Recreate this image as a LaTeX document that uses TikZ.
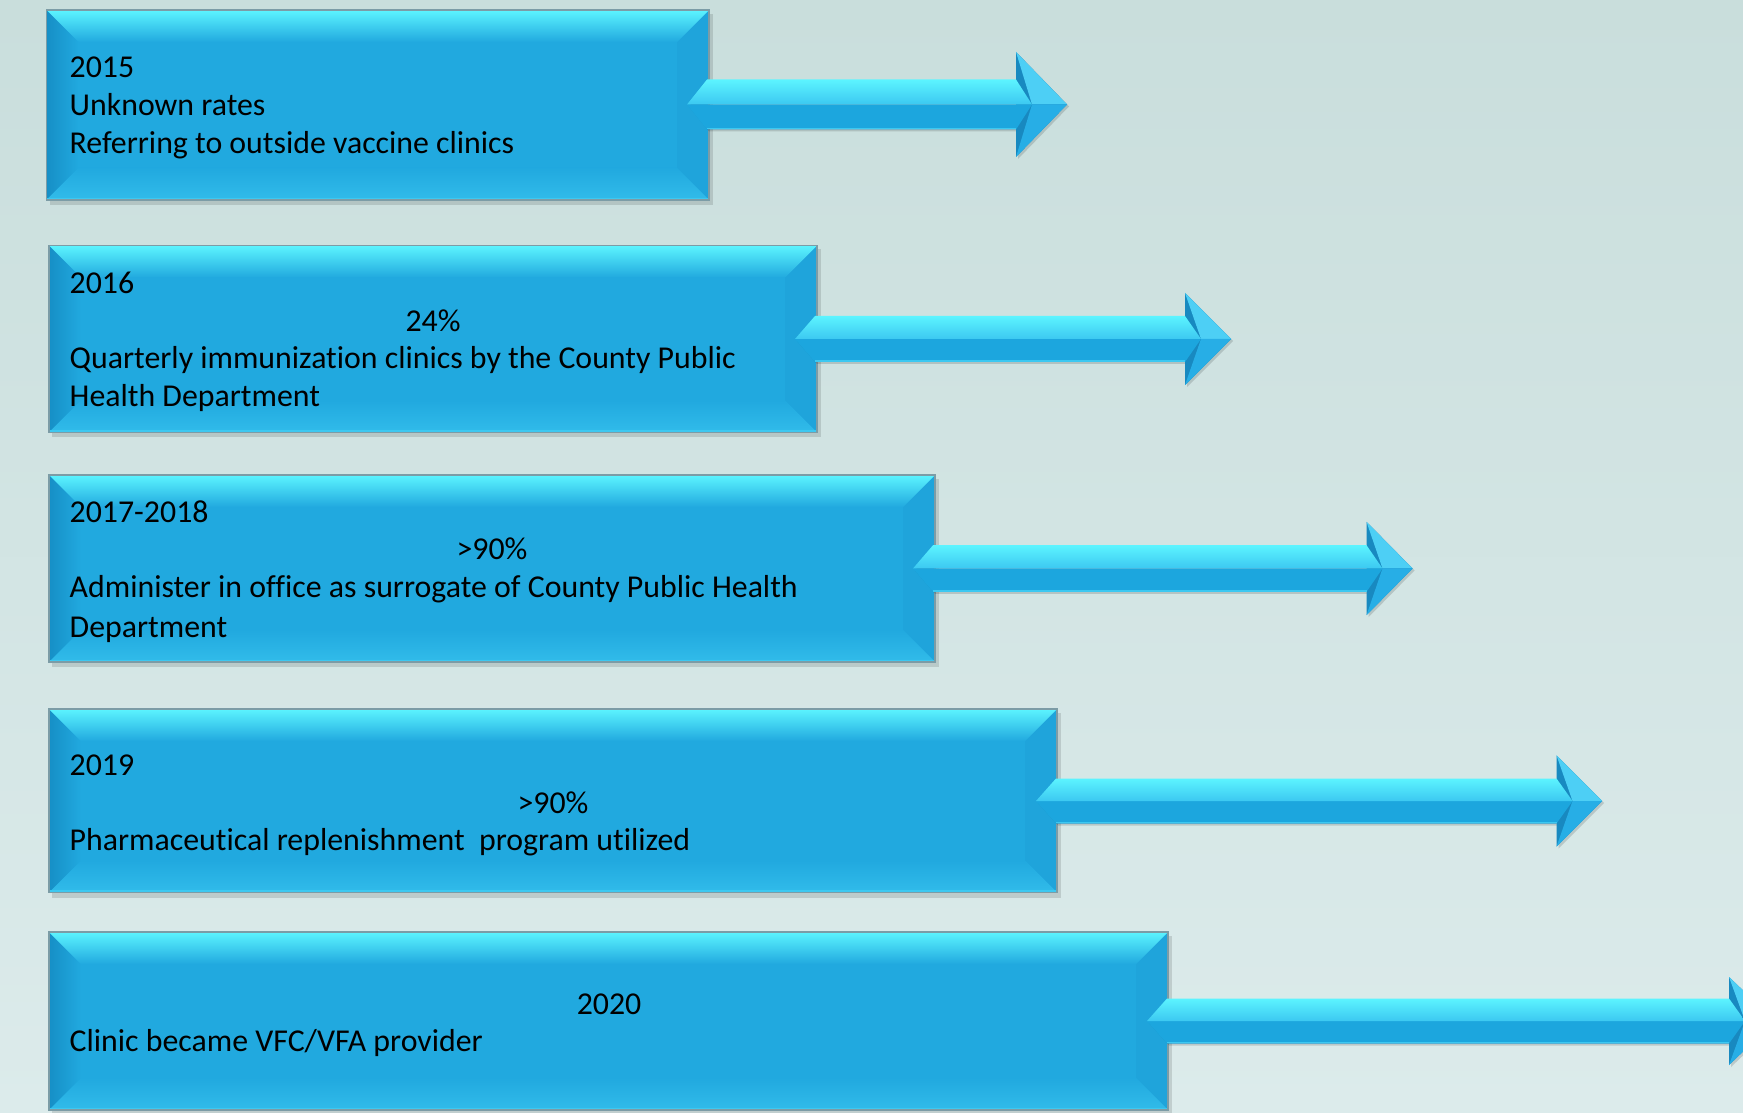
\documentclass[tikz,border=0pt]{standalone}
\usepackage{fontspec}
\setmainfont{Carlito}[Ligatures=NoCommon]
\usepackage{tikz}
\usetikzlibrary{calc}

\definecolor{bgtop}{HTML}{C9DEDC}
\definecolor{bgbot}{HTML}{DCEBEB}
\definecolor{boxmid}{HTML}{21A9DF}
\definecolor{boxlight}{HTML}{5CF4FF}
\definecolor{boxsoft}{HTML}{3CC8F1}
\definecolor{boxdark}{HTML}{168FC6}
\definecolor{boxside}{HTML}{1FA4DB}
\definecolor{boxedge}{HTML}{7C9CA6}
\definecolor{shaftlow}{HTML}{1CA6DE}
\definecolor{headlight}{HTML}{4DCFF5}
\definecolor{headmid}{HTML}{27AEE6}
\definecolor{headdark}{HTML}{1889C0}

\tikzset{
    txt/.style={anchor=base west, inner sep=0pt, font=\fontsize{9.05}{10.8}\selectfont},
    pct/.style={anchor=base, inner sep=0pt, font=\fontsize{9.05}{10.8}\selectfont},
}

% bevelled panel: x1, y1, x2, y2 (pixels, y pointing down)
\newcommand{\bevelbox}[4]{%
    \fill[black, opacity=0.12] (#1+3,#2+4) rectangle (#3+4,#4+5);
    \fill[boxmid] (#1,#2) rectangle (#3,#4);
    \shade[left color=boxdark, right color=boxmid] (#1,#2) -- (#1+32,#2+32) -- (#1+32,#4-32) -- (#1,#4) -- cycle;
    \fill[boxside] (#3,#2) -- (#3-32,#2+32) -- (#3-32,#4-32) -- (#3,#4) -- cycle;
    \shade[top color=boxmid, bottom color=boxsoft!60!boxmid] (#1,#4) -- (#1+32,#4-32) -- (#3-32,#4-32) -- (#3,#4) -- cycle;
    \shade[top color=boxlight, bottom color=boxmid] (#1,#2) -- (#3,#2) -- (#3-32,#2+32) -- (#1+32,#2+32) -- cycle;
    \draw[boxsoft, line width=0.6pt] (#1,#4-1) -- (#3,#4-1);
    \draw[boxedge, line width=0.3pt] (#1,#2) rectangle (#3,#4);
}

% bevelled arrow: left point, head base, tip, middle, shaft half, head half
\newcommand{\bevelarrow}[6]{%
    \fill[black, opacity=0.14] (#1+2,#4+2) -- (#1+22,#4-#5+2) -- (#2+2,#4-#5+2) -- (#2+2,#4-#6+2)
        -- (#3+2,#4+2) -- (#2+2,#4+#6+2) -- (#2+2,#4+#5+2) -- (#1+22,#4+#5+2) -- cycle;
    \fill[headdark] (#2,#4-#6) -- (#3,#4) -- (#2,#4+#6) -- cycle;
    \fill[headlight] (#2,#4-#6) -- (#3,#4) -- (#2+16,#4) -- cycle;
    \fill[headmid] (#2,#4+#6) -- (#3,#4) -- (#2+16,#4) -- cycle;
    \fill[shaftlow] (#1,#4) -- (#1+20,#4+#5) -- (#2,#4+#5) -- (#2+16,#4) -- cycle;
    \shade[top color=boxlight, bottom color=boxsoft] (#1,#4) -- (#1+20,#4-#5) -- (#2,#4-#5) -- (#2+16,#4) -- cycle;
    \draw[boxsoft, line width=0.5pt] (#1+20,#4+#5-1) -- (#2,#4+#5-1);
}

\begin{document}
\begin{tikzpicture}[x=0.01cm, y=-0.01cm]
    \useasboundingbox (0,0) rectangle (1743,1113);
    \shade[top color=bgtop, bottom color=bgbot] (0,0) rectangle (1743,1113);
    \begin{scope}
        \clip (0,0) rectangle (1743,1113);
        \bevelbox{46.5}{10}{709}{200}
        \bevelarrow{687}{1016}{1067}{104.5}{25}{52.5}
        \bevelbox{49}{245.5}{817}{432.5}
        \bevelarrow{795}{1185}{1231}{339}{23}{46}
        \bevelbox{49}{475}{935}{662}
        \bevelarrow{913}{1366.5}{1412.5}{568.5}{23.3}{46.7}
        \bevelbox{49}{709}{1057}{892.5}
        \bevelarrow{1036}{1556.5}{1602}{801}{22.5}{45.6}
        \bevelbox{49}{932}{1168}{1110}
        \bevelarrow{1147}{1729}{1775}{1021}{22.5}{44}
    \end{scope}
    % 2015
    \node[txt] (year1) at (69,78) {2015};
    \node[txt] (line1a) at (69,116) {Unknown rates};
    \node[txt] (line1b) at (69,154) {Referring to outside vaccine clinics};
    % 2016
    \node[txt] (year2) at (69,294) {2016};
    \node[pct] (rate2) at (433,332) {24\%};
    \node[txt] (line2a) at (69,369) {Quarterly immunization clinics by the County Public};
    \node[txt] (line2b) at (69,407) {Health Department};
    % 2017-2018
    \node[txt] (year3) at (69,523) {2017-2018};
    \node[pct] (rate3) at (492,560) {>90\%};
    \node[txt] (line3a) at (69,597) {Administer in office as surrogate of County Public Health};
    \node[txt] (line3b) at (69,637) {Department};
    % 2019
    \node[txt] (year4) at (69,775) {2019};
    \node[pct] (rate4) at (553,813) {>90\%};
    \node[txt] (line4a) at (69,850.5) {Pharmaceutical replenishment\ \ program utilized};
    % 2020
    \node[pct] (year5) at (609,1014) {2020};
    \node[txt] (line5a) at (69,1051) {Clinic became VFC/VFA provider};
\end{tikzpicture}
\end{document}
